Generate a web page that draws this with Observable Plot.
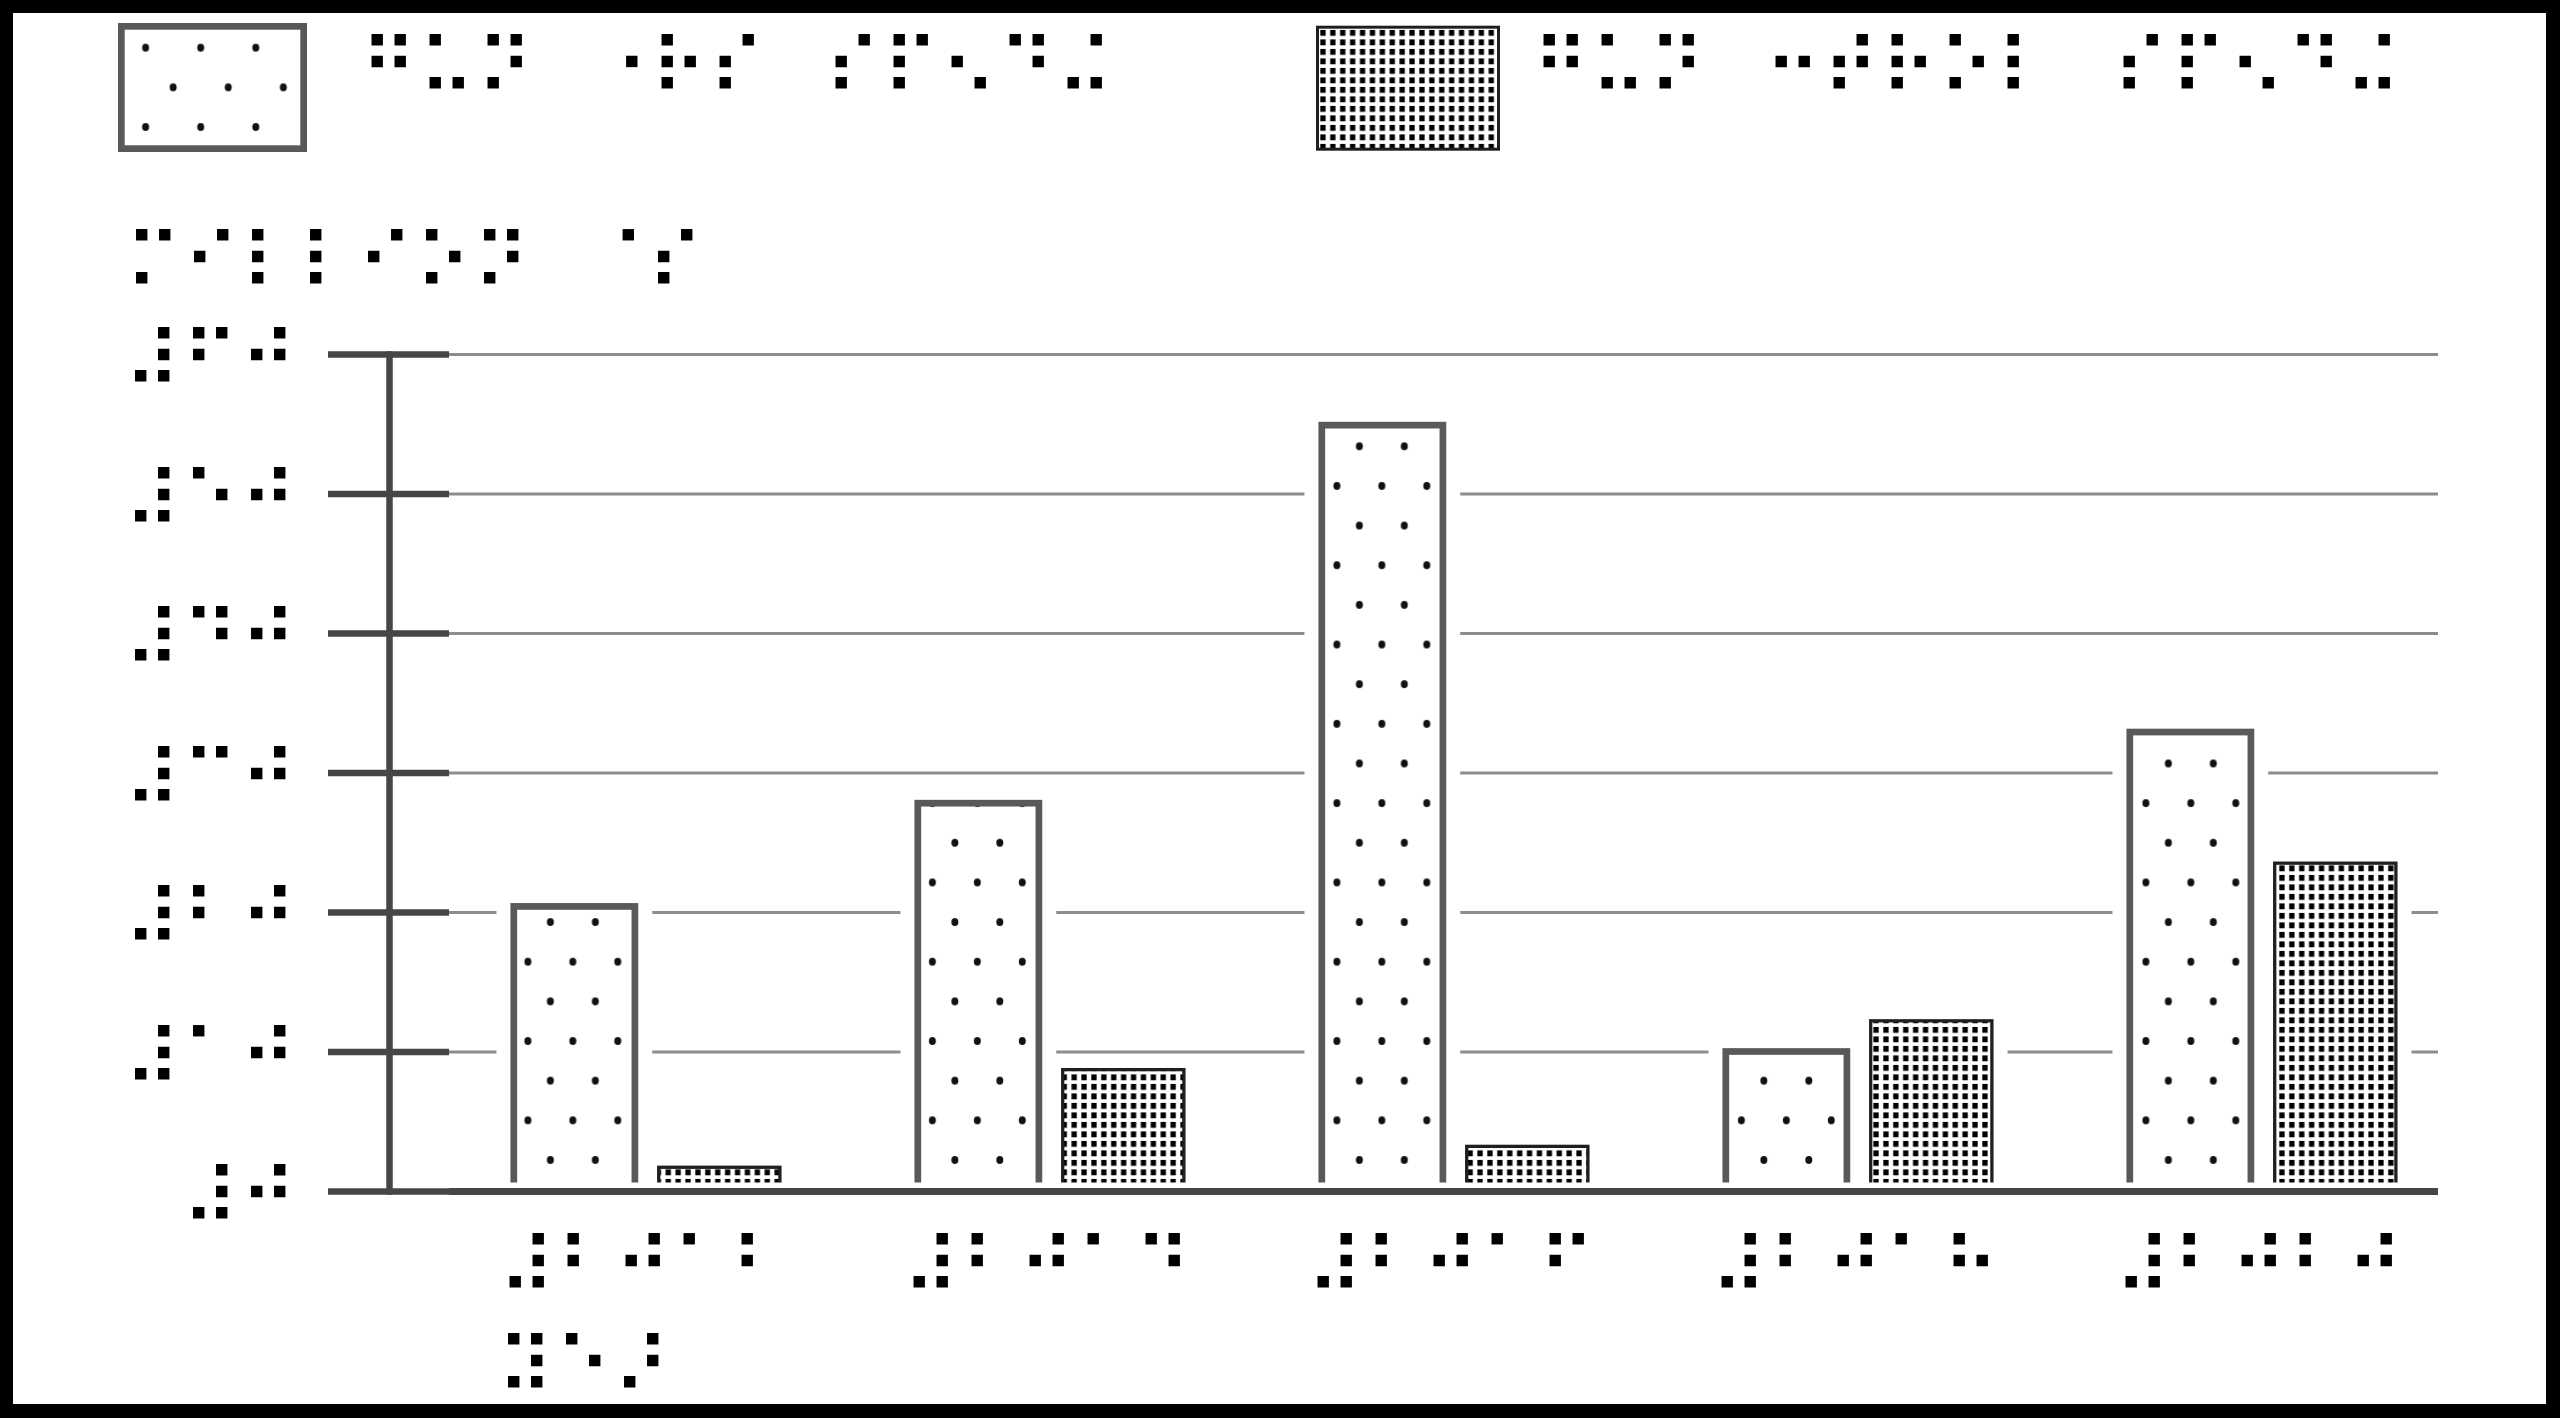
<!DOCTYPE html>
<html><head><meta charset="utf-8">
<script src="https://cdn.jsdelivr.net/npm/d3@7"></script>
<script src="https://cdn.jsdelivr.net/npm/@observablehq/plot@0.6"></script>
<style>
html,body{margin:0;padding:0;background:#000;width:2560px;height:1418px;overflow:hidden}
#page{position:absolute;left:13px;top:13px;width:2533px;height:1391px;background:#fff}
#legend{position:absolute;left:0;top:0}
#chart{position:absolute;left:0;top:170px}
</style></head><body>
<div id="page"></div><div id="legend"></div><div id="chart"></div>
<script>
// ---- data (braille text: UEB) ----
const years = ["⠼⠃⠚⠁⠃", "⠼⠃⠚⠁⠙", "⠼⠃⠚⠁⠋", "⠼⠃⠚⠁⠓", "⠼⠃⠚⠃⠚"]; // 2012 2014 2016 2018 2020
const rightsSpending = [20.4, 27.8, 54.9, 10.0, 32.9];
const controlSpending = [1.7, 8.7, 3.2, 12.2, 23.5];
const yTicks = [0, 10, 20, 30, 40, 50, 60];
const yTickLabels = ["⠼⠚", "⠼⠁⠚", "⠼⠃⠚", "⠼⠉⠚", "⠼⠙⠚", "⠼⠑⠚", "⠼⠋⠚"];
const seriesNames = ["⠛⠥⠝⠀⠐⠗⠎⠀⠎⠏⠢⠙⠬", "⠛⠥⠝⠀⠒⠞⠗⠕⠇⠀⠎⠏⠢⠙⠬"]; // gun rights spending / gun control spending
const yTitle = "⠍⠊⠇⠇⠊⠕⠝⠀⠈⠎"; // million $
const xTitle = "⠽⠑⠜"; // year

const rows = years.map((y, i) => ({year: y, rights: rightsSpending[i], control: controlSpending[i]}));

// ---- braille font metrics ----
const FONT = "DejaVu Sans";
const ctx = document.createElement("canvas").getContext("2d");
ctx.font = `100px "${FONT}"`;
const M = s => ctx.measureText(s);
const m1 = M("⠁"), m14 = M("⠉"), m123 = M("⠇"), m4 = M("⠈"), mAll = M("⠿");
const d100 = m1.actualBoundingBoxRight + m1.actualBoundingBoxLeft;
const sx100 = (m14.actualBoundingBoxRight + m14.actualBoundingBoxLeft) - d100;
const sy100 = ((m123.actualBoundingBoxAscent + m123.actualBoundingBoxDescent) - d100) / 2;
let fs = (sx100 > 0 && sy100 > 0) ? 100 * 22 / ((sx100 + sy100) / 2) : 60;
const k = fs / 100;
const adv = mAll.width * k;
const CELL = 58;
const ls = CELL - adv;
const leftOff = -m1.actualBoundingBoxLeft * k;     // dot-1 left edge relative to origin
const rightOff = m4.actualBoundingBoxRight * k;    // dot-4 right edge relative to origin
const baseOff = (mAll.actualBoundingBoxAscent - mAll.actualBoundingBoxDescent) / 2 * k; // baseline below middle row

// ---- layout ----
const W = 2560, H = 1248, TOP = 170;
const y0 = 1191 - TOP, y60 = 354 - TOP;
const ml = 449, mr = 122;
const band = 404.5;
const xr0 = 644.5 - band / 2, xr1 = xr0 + band * 5;

const RIGHTS_STROKE = "#59595b", CONTROL_STROKE = "#1f1f1f", AXIS = "#464648", GRID = "#8d8d8d";

const chart = Plot.plot({
  width: W, height: H,
  marginLeft: ml, marginRight: mr, marginTop: y60, marginBottom: H - y0,
  style: {background: "transparent", fontFamily: FONT, letterSpacing: ls + "px", color: "#000"},
  x: {type: "band", domain: years, range: [xr0, xr1], padding: 0, axis: null},
  y: {domain: [0, 60]},
  marks: [
    Plot.ruleY(yTicks.filter(d => d > 0), {stroke: GRID, strokeWidth: 3}),
    // white clearance around bars (gaps in gridlines)
    Plot.barY(rows, {x: "year", y: "rights", fill: "white", insetLeft: 52.45, insetRight: 195.75, insetTop: -5}),
    Plot.barY(rows, {x: "year", y: "control", fill: "white", insetLeft: 199.05, insetRight: 52.45, insetTop: -5}),
    // bars
    Plot.barY(rows, {x: "year", y: "rights", fill: "url(#dotsPat)", stroke: RIGHTS_STROKE, strokeWidth: 6.7, insetLeft: 69.8, insetRight: 213.1}),
    Plot.barY(rows, {x: "year", y: "control", fill: "url(#gridPat)", stroke: CONTROL_STROKE, strokeWidth: 3.3, insetLeft: 214.7, insetRight: 68.1}),
    // open bottoms
    Plot.ruleY([0], {stroke: "white", strokeWidth: 18}),
    // axis
    Plot.frame({anchor: "left", dx: -60, stroke: AXIS, strokeWidth: 6.5}),
    Plot.axisY({ticks: yTicks, tickSize: 121, tickFormat: () => "", label: null, stroke: AXIS, strokeWidth: 6.5}),
    Plot.ruleY([0], {stroke: AXIS, strokeWidth: 7}),
    // tick labels
    Plot.text(yTicks, {y: d => d, text: (d, i) => yTickLabels[i], frameAnchor: "left", textAnchor: "end", lineAnchor: "bottom",
      fontFamily: FONT, fontSize: fs, fill: "#000", dx: (285 + CELL - rightOff) - ml, dy: baseOff}),
    Plot.text(years, {x: d => d, text: d => d, frameAnchor: "bottom", textAnchor: "start", lineAnchor: "bottom",
      fontFamily: FONT, fontSize: fs, fill: "#000", dx: (507 - 644.5) - leftOff, dy: 69 + baseOff}),
    Plot.text([yTitle], {text: d => d, frameAnchor: "top-left", textAnchor: "start", lineAnchor: "bottom",
      fontFamily: FONT, fontSize: fs, fill: "#000", dx: 135 - ml - leftOff, dy: (255.5 - 354) + baseOff}),
    Plot.text([xTitle], {text: d => d, frameAnchor: "bottom-left", textAnchor: "start", lineAnchor: "bottom",
      fontFamily: FONT, fontSize: fs, fill: "#000", dx: 507 - ml - leftOff, dy: (1360 - 1191) + baseOff})
  ]
});

// patterns for the chart (user space of chart svg)
const pw = band / 9, ph = 79.3;
const px0 = 572.85 - pw / 4, py0 = 941.9 - TOP;
const ns = "http://www.w3.org/2000/svg";
const defs = document.createElementNS(ns, "defs");
defs.innerHTML = `
<pattern id="dotsPat" patternUnits="userSpaceOnUse" x="${px0}" y="${py0}" width="${pw}" height="${ph}">
  <rect width="${pw}" height="${ph}" fill="#fff"/>
  <ellipse cx="${pw / 4}" cy="${ph / 4}" rx="3.5" ry="4" fill="#111"/>
  <ellipse cx="${pw * 3 / 4}" cy="${ph * 3 / 4}" rx="3.5" ry="4" fill="#111"/>
</pattern>
<pattern id="gridPat" patternUnits="userSpaceOnUse" x="0" y="0" width="9.9" height="9.5">
  <rect width="9.9" height="9.5" fill="#fff"/>
  <rect x="2.3" y="1.9" width="5.3" height="5.9" fill="#000"/>
</pattern>`;
chart.prepend(defs);
document.getElementById("chart").appendChild(chart);

// ---- legend (above the chart svg) ----
const L = d3.select("#legend").append("svg").attr("width", W).attr("height", TOP)
  .style("font-family", FONT).style("letter-spacing", ls + "px");
const lw = 55.1, lh = 79.3;
L.append("defs").html(`
<pattern id="lgDots" patternUnits="userSpaceOnUse" x="${145.6 - lw / 4}" y="${47.7 - lh / 4}" width="${lw}" height="${lh}">
  <rect width="${lw}" height="${lh}" fill="#fff"/>
  <ellipse cx="${lw / 4}" cy="${lh / 4}" rx="3.5" ry="4" fill="#111"/>
  <ellipse cx="${lw * 3 / 4}" cy="${lh * 3 / 4}" rx="3.5" ry="4" fill="#111"/>
</pattern>
<pattern id="lgGrid" patternUnits="userSpaceOnUse" x="1318" y="28" width="9.9" height="9.5">
  <rect width="9.9" height="9.5" fill="#fff"/>
  <rect x="2.3" y="1.9" width="5.3" height="5.9" fill="#000"/>
</pattern>`);
const legendItems = [
  {name: seriesNames[0], box: [121.35, 26.35, 182.3, 122.3], fill: "url(#lgDots)", stroke: RIGHTS_STROKE, sw: 6.7, tx: 371},
  {name: seriesNames[1], box: [1317.5, 27.2, 181, 122], fill: "url(#lgGrid)", stroke: CONTROL_STROKE, sw: 3, tx: 1543}
];
const g = L.selectAll("g").data(legendItems).join("g");
g.append("rect").attr("x", d => d.box[0]).attr("y", d => d.box[1]).attr("width", d => d.box[2]).attr("height", d => d.box[3])
  .attr("fill", d => d.fill).attr("stroke", d => d.stroke).attr("stroke-width", d => d.sw);
g.append("text").attr("x", d => d.tx - leftOff).attr("y", 61 + baseOff).attr("font-size", fs).attr("fill", "#000").text(d => d.name);
</script>
</body></html>
